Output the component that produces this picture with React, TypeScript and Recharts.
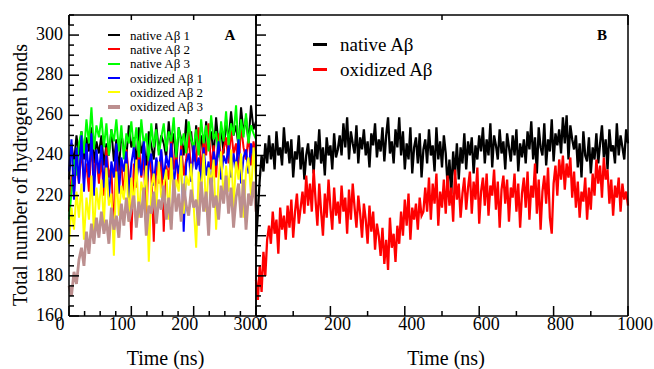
import React from 'react';
import { LineChart, Line, XAxis, YAxis, Legend } from 'recharts';

const FONT = '"Liberation Serif", "Times New Roman", serif';

// panel A: three runs each of native and oxidized Abeta, one sample every 4 ns
const STEP_A_NS = 4;
const NATIVE_1 = [
  228, 246, 236, 250, 240,
  252, 238, 249, 242, 254, 236, 247, 241,
  250, 235, 246, 240, 253, 237, 248, 232, 251, 243, 239, 255, 244,
  249, 236, 254, 241, 247, 233, 252, 245, 238, 256, 242, 250,
  246, 239, 257, 243, 251, 235, 254, 248, 240, 258, 244, 252, 237,
  255, 242, 250, 238, 257, 246, 252, 240, 259, 245, 253, 241,
  258, 247, 262, 250, 255, 244, 264, 251, 259, 246, 265, 253, 257,
];
const NATIVE_2 = [
  212, 230, 221, 238, 226,
  243, 228, 236, 222, 245, 231, 240, 226,
  238, 220, 244, 229, 235, 200, 241, 226, 237, 219, 243, 230, 198,
  236, 224, 247, 229, 240, 205, 244, 231, 197, 238, 226, 242,
  202, 235, 228, 249, 233, 241, 224, 246, 230, 238, 252, 227, 244,
  236, 254, 231, 248, 240, 256, 233, 245, 229, 251, 238, 243,
  249, 236, 253, 241, 246, 232, 255, 244, 238, 250, 235, 247, 240,
];
const NATIVE_3 = [
  208, 222, 238, 230, 246,
  252, 241, 258, 246, 264, 243, 255, 249,
  259, 244, 256, 240, 253, 247, 258, 242, 255, 238, 251, 246, 257,
  243, 254, 239, 258, 245, 251, 237, 256, 244, 253, 240, 249,
  256, 242, 252, 247, 259, 239, 254, 245, 251, 241, 257, 248, 244,
  253, 240, 258, 246, 255, 242, 260, 248, 252, 239, 257, 247,
  262, 245, 256, 250, 265, 243, 258, 249, 261, 246, 255, 251, 248,
];
const OXIDIZED_1 = [
  232, 248, 218, 244, 226,
  250, 222, 246, 229, 251, 220, 243, 231,
  245, 224, 240, 218, 237, 229, 246, 221, 239, 232, 242, 219, 236,
  244, 226, 238, 230, 247, 223, 235, 241, 225, 239, 232, 243,
  228, 240, 234, 246, 224, 238, 231, 243, 202, 236, 241, 227, 245,
  233, 239, 225, 244, 230, 237, 222, 242, 235, 247, 228, 240,
  236, 245, 229, 241, 233, 248, 226, 239, 243, 231, 246, 237, 242,
];
const OXIDIZED_2 = [
  196, 214, 203, 222, 209,
  226, 198, 219, 208, 230, 201, 224, 213,
  228, 206, 234, 215, 221, 190, 232, 210, 225, 218, 236, 207, 229,
  214, 238, 209, 227, 220, 235, 187, 224, 231, 212, 237, 219,
  226, 233, 208, 239, 217, 228, 222, 240, 211, 230, 225, 236, 215,
  194, 232, 221, 241, 212, 234, 226, 238, 203, 229, 242, 218,
  235, 222, 243, 214, 237, 228, 241, 209, 233, 239, 220, 244, 227,
];
const OXIDIZED_3 = [
  175, 170, 182, 176, 188,
  194, 185, 202, 191, 206, 196, 209, 199,
  212, 201, 208, 196, 214, 203, 210, 199, 216, 205, 219, 207, 213,
  220, 204, 217, 209, 224, 200, 215, 211, 222, 206, 218, 213,
  225, 208, 219, 203, 228, 212, 221, 207, 226, 215, 210, 223, 214,
  218, 205, 227, 212, 222, 200, 229, 214, 220, 208, 225, 216,
  230, 211, 224, 204, 219, 226, 209, 228, 203, 221, 215, 227, 212,
];

// panel B: native vs oxidized over 1 us, one sample every 5 ns
const STEP_B_NS = 5;
const NATIVE_B = [
  195, 212, 228, 240, 232, 246, 236,
  250, 238, 246, 233, 252, 240, 244, 235, 254, 241, 247,
  236, 248, 229, 242, 238, 250, 233, 244, 228, 240, 246, 235, 243, 231,
  247, 238, 253, 236, 244, 230, 249, 240, 245, 233, 251, 239, 243,
  250, 240, 256, 244, 259, 238, 252, 246, 241,
  255, 236, 249, 243, 253, 240, 247, 234, 251, 245, 256, 239, 248, 242, 254, 237,
  250, 259, 241, 247, 236, 253, 244, 259,
  240, 252, 233, 246, 238, 254, 231, 244, 249, 236, 251, 229, 243,
  248, 236, 253, 240, 245, 232, 254, 238, 247, 234, 250, 241,
  225, 238, 221, 242, 230, 246, 228,
  244, 236, 251, 233, 247, 240, 249, 231, 245, 238, 250,
  242, 254, 236, 248, 240, 256, 234, 250, 245, 238, 253, 241, 247, 233, 251, 244,
  237, 250, 240, 253, 232, 246, 239, 248,
  236, 252, 243, 257, 238, 249, 231, 254, 244, 240, 256, 235, 248, 242, 258, 237, 251, 245,
  253, 241, 259, 246, 260, 238, 255, 248, 243,
  250, 234, 246, 229, 252, 240, 237, 249, 231, 244, 238,
  251, 236, 246, 255, 239, 248, 233, 253, 242, 245, 236, 256, 240, 250, 244, 238, 253, 246,
];
const OXIDIZED_B = [
  178, 168, 185, 172, 192, 180, 198,
  205, 196, 212, 201, 208, 191, 214, 203, 210, 198, 215,
  204, 218, 199, 212, 221, 206, 214,
  222, 211, 230, 215, 226, 212, 233,
  218, 205, 226, 212, 200, 221, 209, 228, 214, 203, 224, 210, 217,
  206, 225, 212, 219, 201, 223, 208, 226, 214, 204, 220, 211, 199, 216,
  208, 196, 215, 202, 212, 193, 206, 200,
  190, 204, 186, 198, 183, 209, 194, 201, 187, 205, 196,
  212, 200, 218, 205, 221, 198, 214, 208, 216, 203, 219, 210, 212,
  224, 212, 229, 208, 226, 216, 231, 205, 222, 214, 228, 211,
  230, 215, 224, 207, 233, 218, 226, 209, 221, 229, 213,
  224, 232, 211, 227, 218, 234, 206, 222, 229, 215, 231, 210, 225, 220, 233, 213, 227, 204, 223, 230,
  216, 228, 207, 224, 219, 231, 212, 226, 204, 221, 229,
  214, 232, 208, 225, 219, 236, 211, 228, 203, 222, 230, 216, 234, 209, 201,
  226, 235, 220, 238, 228, 240, 223, 236, 229, 239, 219, 232,
  214, 227, 209, 222, 217, 229, 208, 224, 213,
  231, 220, 238, 226, 235, 219, 239, 228, 233,
  216, 228, 210, 225, 219, 229, 212, 226, 218, 222, 215,
];

const Y_TICKS = [
  160, 165, 170, 175, 180, 185, 190, 195, 200, 205, 210, 215, 220, 225, 230, 235,
  240, 245, 250, 255, 260, 265, 270, 275, 280, 285, 290, 295, 300, 305, 310,
];
const X_TICKS_A = [0, 25, 50, 75, 100, 125, 150, 175, 200, 225, 250, 275, 300];
const X_TICKS_B = [0, 100, 200, 300, 400, 500, 600, 700, 800, 900, 1000];

const tableA = NATIVE_1.map((v, i) => ({
  t: i * STEP_A_NS,
  n1: v,
  n2: NATIVE_2[i],
  n3: NATIVE_3[i],
  o1: OXIDIZED_1[i],
  o2: OXIDIZED_2[i],
  o3: OXIDIZED_3[i],
}));

const tableB = NATIVE_B.map((v, i) => ({
  t: i * STEP_B_NS,
  nat: v,
  ox: OXIDIZED_B[i],
}));

type Side = 'bottom' | 'top' | 'left' | 'right';

const serif = { fontFamily: FONT };

// grace-style ticks: pointing into the plot, labels only on the major ones
const tickMark = (side: Side, major: number, labels: boolean, dx = 0) => (props: any) => {
  const { x, y, payload } = props;
  const v = payload.value as number;
  const isMajor = v % major === 0;
  const len = isMajor ? 10 : 5;
  let x2 = x;
  let y2 = y;
  if (side === 'bottom') y2 = y - len;
  if (side === 'top') y2 = y + len;
  if (side === 'left') x2 = x + len;
  if (side === 'right') x2 = x - len;
  return (
    <g>
      <line x1={x} y1={y} x2={x2} y2={y2} stroke="#000" strokeWidth={1.5} />
      {labels && isMajor && side === 'bottom' && (
        <text x={x + dx} y={y + 14} textAnchor="middle" style={serif} fontSize={18} fill="#000">
          {v}
        </text>
      )}
      {labels && isMajor && side === 'left' && (
        <text x={x - 6} y={y + 5} textAnchor="end" style={serif} fontSize={18} fill="#000">
          {v}
        </text>
      )}
    </g>
  );
};

const timeTitle = (dx: number) => (props: any) => {
  const vb = props.viewBox || {};
  return (
    <text x={vb.x + vb.width / 2 + dx} y={vb.y + 49} textAnchor="middle" style={serif} fontSize={20} fill="#000">
      Time (ns)
    </text>
  );
};

const legendBox = (fontSize: number, rowH: number, lineW: number, gap: number, thick: Record<string, number>) =>
  (props: any) => (
    <div style={{ fontFamily: FONT, fontSize, color: '#000' }}>
      {(props.payload || []).map((e: any) => (
        <div key={e.value} style={{ display: 'flex', alignItems: 'center', height: rowH }}>
          <span
            style={{
              display: 'inline-block',
              width: lineW,
              height: thick[e.value] ?? 2,
              background: e.color,
              marginRight: gap,
            }}
          />
          <span style={{ lineHeight: 1, fontFamily: FONT }}>{e.value}</span>
        </div>
      ))}
    </div>
  );

const axisLine = { stroke: '#000', strokeWidth: 1.5 };

export default function App() {
  return (
    <div style={{ position: 'absolute', left: 0, top: 0, width: 654, height: 369, background: '#fff', fontFamily: FONT }}>
      <div style={{ position: 'absolute', left: 0, top: 0 }}>
        <LineChart width={260} height={369} data={tableA} margin={{ top: 14, right: 3, bottom: 52, left: 68 }}>
          <XAxis
            dataKey="t"
            type="number"
            domain={[0, 300]}
            ticks={X_TICKS_A}
            interval={0}
            height={1}
            tickSize={0}
            tickMargin={0}
            tickLine={false}
            axisLine={axisLine}
            tick={tickMark('bottom', 100, true, -9)}
            label={{ content: timeTitle(3) }}
          />
          <XAxis
            xAxisId="top"
            orientation="top"
            type="number"
            domain={[0, 300]}
            ticks={X_TICKS_A}
            interval={0}
            height={1}
            tickSize={0}
            tickMargin={0}
            tickLine={false}
            axisLine={axisLine}
            tick={tickMark('top', 100, false)}
          />
          <YAxis
            type="number"
            domain={[160, 310]}
            ticks={Y_TICKS}
            interval={0}
            width={1}
            tickSize={0}
            tickMargin={0}
            tickLine={false}
            axisLine={axisLine}
            tick={tickMark('left', 20, true)}
          />
          <YAxis
            yAxisId="right"
            orientation="right"
            type="number"
            domain={[160, 310]}
            ticks={Y_TICKS}
            interval={0}
            width={1}
            tickSize={0}
            tickMargin={0}
            tickLine={false}
            axisLine={axisLine}
            tick={tickMark('right', 20, false)}
          />
          <Line dataKey="n1" name="native Aβ 1" stroke="#000000" strokeWidth={2} dot={false} type="linear" isAnimationActive={false} />
          <Line dataKey="n2" name="native Aβ 2" stroke="#ff0000" strokeWidth={2} dot={false} type="linear" isAnimationActive={false} />
          <Line dataKey="n3" name="native Aβ 3" stroke="#00ff00" strokeWidth={2} dot={false} type="linear" isAnimationActive={false} />
          <Line dataKey="o1" name="oxidized Aβ 1" stroke="#0000ff" strokeWidth={2} dot={false} type="linear" isAnimationActive={false} />
          <Line dataKey="o2" name="oxidized Aβ 2" stroke="#ffff00" strokeWidth={2} dot={false} type="linear" isAnimationActive={false} />
          <Line dataKey="o3" name="oxidized Aβ 3" stroke="#bc8f8f" strokeWidth={2.8} dot={false} type="linear" isAnimationActive={false} />
          <Legend
            layout="vertical"
            align="center"
            verticalAlign="middle"
            wrapperStyle={{ left: 108, top: 28, width: 140 }}
            content={legendBox(13, 14.3, 12, 10, { 'oxidized Aβ 3': 4 })}
          />
          <text x={230} y={40} textAnchor="middle" style={serif} fontSize={15} fontWeight="bold" fill="#000">
            A
          </text>
          <text x={27} y={175} transform="rotate(-90 27 175)" textAnchor="middle" style={serif} fontSize={20} fill="#000">
            Total number of hydrogen bonds
          </text>
        </LineChart>
      </div>
      <div style={{ position: 'absolute', left: 252, top: 0 }}>
        <LineChart width={402} height={369} data={tableB} margin={{ top: 14, right: 25, bottom: 52, left: 3 }}>
          <XAxis
            dataKey="t"
            type="number"
            domain={[0, 1000]}
            ticks={X_TICKS_B}
            interval={0}
            height={1}
            tickSize={0}
            tickMargin={0}
            tickLine={false}
            axisLine={axisLine}
            tick={tickMark('bottom', 200, true, 7)}
            label={{ content: timeTitle(4) }}
          />
          <XAxis
            xAxisId="top"
            orientation="top"
            type="number"
            domain={[0, 1000]}
            ticks={X_TICKS_B}
            interval={0}
            height={1}
            tickSize={0}
            tickMargin={0}
            tickLine={false}
            axisLine={axisLine}
            tick={tickMark('top', 200, false)}
          />
          <YAxis
            type="number"
            domain={[160, 310]}
            ticks={Y_TICKS}
            interval={0}
            width={1}
            tickSize={0}
            tickMargin={0}
            tickLine={false}
            axisLine={axisLine}
            tick={tickMark('left', 20, false)}
          />
          <YAxis
            yAxisId="right"
            orientation="right"
            type="number"
            domain={[160, 310]}
            ticks={Y_TICKS}
            interval={0}
            width={1}
            tickSize={0}
            tickMargin={0}
            tickLine={false}
            axisLine={axisLine}
            tick={tickMark('right', 20, false)}
          />
          <Line dataKey="nat" name="native Aβ" stroke="#000000" strokeWidth={2.3} dot={false} type="linear" isAnimationActive={false} />
          <Line dataKey="ox" name="oxidized Aβ" stroke="#ff0000" strokeWidth={2.3} dot={false} type="linear" isAnimationActive={false} />
          <Legend
            layout="vertical"
            align="center"
            verticalAlign="middle"
            wrapperStyle={{ left: 61, top: 32, width: 160 }}
            content={legendBox(19, 25, 14, 13, { 'native Aβ': 3, 'oxidized Aβ': 3 })}
          />
          <text x={350} y={40} textAnchor="middle" style={serif} fontSize={15} fontWeight="bold" fill="#000">
            B
          </text>
        </LineChart>
      </div>
    </div>
  );
}
